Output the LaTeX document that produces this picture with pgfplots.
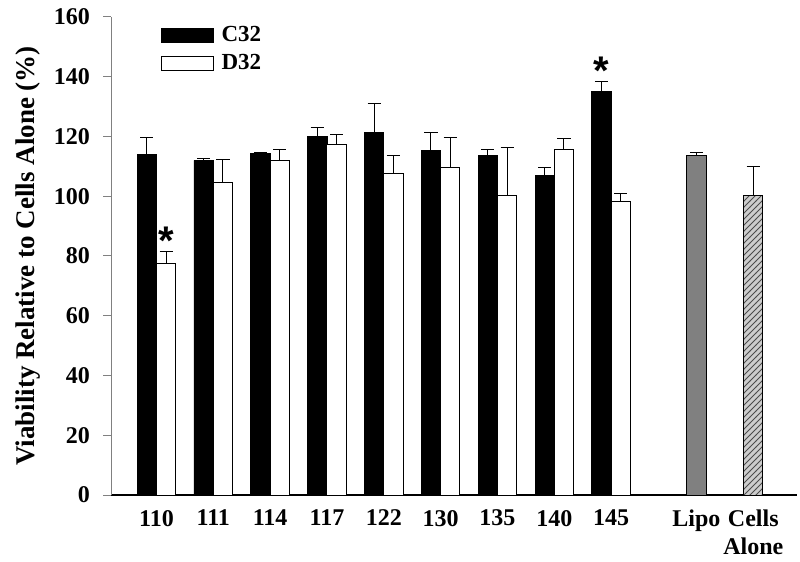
\documentclass[border=0pt]{standalone}
\usepackage{fontspec}
\setmainfont{Liberation Serif}
\setsansfont{Liberation Sans}
\usepackage{pgfplots}
\pgfplotsset{compat=1.18}
\usetikzlibrary{patterns}

\begin{document}
\begin{tikzpicture}
\begin{axis}[
  scale only axis,
  width=343pt, height=239pt,
  xmin=-0.8, xmax=11.27,
  ymin=0, ymax=160,
  ytick={0,20,...,160},
  xtick={0,1,2,3,4,5,6,7,8,9.5,10.5},
  xticklabels={110,111,114,117,122,130,135,140,145,Lipo,{Cells\\Alone}},
  xticklabel style={align=center},
  axis x line*=bottom, axis y line*=left,
  x axis line style={-, line width=0.8pt},
  y axis line style={-, draw=gray, line width=0.5pt},
  xtick style={draw=none},
  ytick style={draw=gray, line width=0.5pt},
  tick align=outside,
  major tick length=4pt,
  ticklabel style={font=\fontsize{12}{14}\selectfont\bfseries},
  yticklabel style={xshift=-3pt},
  /pgf/number format/assume math mode=true,
  ylabel={\textbf{Viability Relative to Cells Alone (\%)}},
  ylabel style={font=\fontsize{13.5}{15}\selectfont},
  legend style={at={(rel axis cs:0.063,0.998)}, anchor=north west, draw=none, fill=none,
    font=\fontsize{11.5}{13}\selectfont\bfseries, row sep=1pt,
    legend cell align=left},
  legend image code/.code={\draw[#1, line width=0.5pt] (0pt,-3.5pt) rectangle (26pt,3.5pt);
    \path (28pt,0pt);},
  error bars/error bar style={line width=0.5pt, black},
  error bars/error mark options={rotate=90, mark size=3.3pt, line width=0.5pt, black},
]

% C32 (left bar of each pair, centre at group - 0.17)
\addplot[ybar, bar width=0.34, bar shift=0, fill=black, draw=black,
  error bars/.cd, y dir=plus, y explicit] coordinates {
  (-0.17,114.0) +- (0,5.6)
  (0.83,112.0) +- (0,0.7)
  (1.83,114.3) +- (0,0.5)
  (2.83,120.0) +- (0,3.0)
  (3.83,121.5) +- (0,9.5)
  (4.83,115.3) +- (0,6.0)
  (5.83,113.7) +- (0,1.8)
  (6.83,106.9) +- (0,2.8)
  (7.83,135.1) +- (0,3.4)
};
\addlegendentry{C32}

% D32 (right bar, centre at group + 0.17)
\addplot[ybar, bar width=0.34, bar shift=0, fill=white, draw=black, line width=0.5pt,
  error bars/.cd, y dir=plus, y explicit] coordinates {
  (0.17,77.5) +- (0,3.9)
  (1.17,104.5) +- (0,7.7)
  (2.17,112.0) +- (0,3.8)
  (3.17,117.3) +- (0,3.5)
  (4.17,107.7) +- (0,6.1)
  (5.17,109.6) +- (0,10.0)
  (6.17,100.2) +- (0,16.0)
  (7.17,115.8) +- (0,3.6)
  (8.17,98.3) +- (0,2.7)
};
\addlegendentry{D32}

% Lipo
\addplot[ybar, bar width=0.34, bar shift=0, fill=gray, draw=black, line width=0.5pt,
  forget plot, error bars/.cd, y dir=plus, y explicit] coordinates {
  (9.5,113.5) +- (0,1.2)
};

% Cells alone
\addplot[ybar, bar width=0.34, bar shift=0, fill=gray!40, draw=black, line width=0.5pt,
  postaction={pattern=north east lines, pattern color=black!70},
  forget plot, error bars/.cd, y dir=plus, y explicit] coordinates {
  (10.5,100.2) +- (0,9.6)
};

% significance marks
\addplot[draw=none, mark=none, forget plot, nodes near coords={*},
  every node near coord/.append style={anchor=center, font=\sffamily\bfseries\fontsize{20}{20}\selectfont}]
  coordinates {(0.17,85) (7.83,142)};

\end{axis}
\pgfresetboundingbox
\path ([shift={(-55.5pt,-33pt)}]current axis.south west)
  rectangle ([shift={(1.5pt,8.5pt)}]current axis.north east);
\end{tikzpicture}
\end{document}
